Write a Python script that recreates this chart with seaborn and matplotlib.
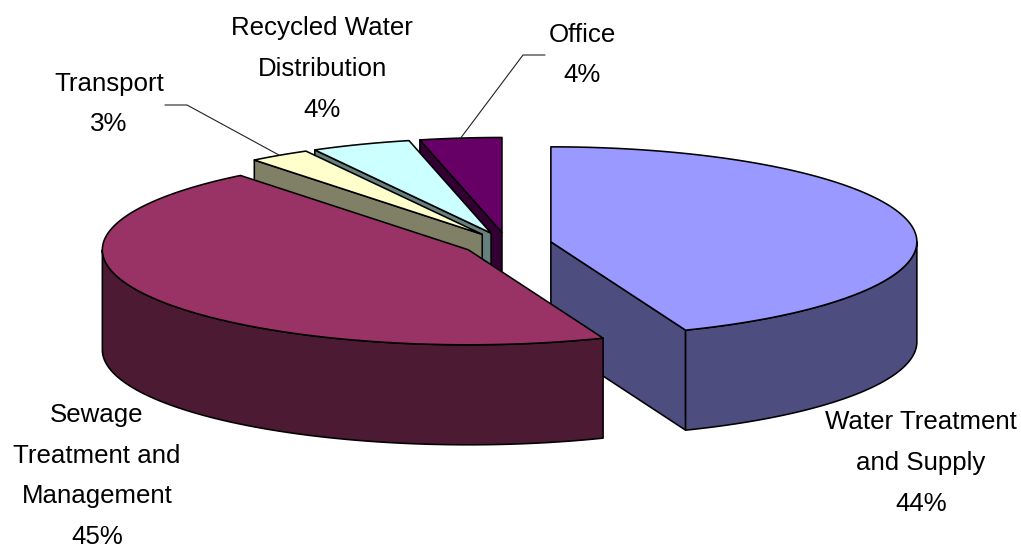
import numpy as np
import matplotlib
matplotlib.use("Agg")
import matplotlib.pyplot as plt
from matplotlib.patches import Polygon
import seaborn as sns

categories = ["Water Treatment\nand Supply", "Sewage\nTreatment and\nManagement", "Transport",
              "Recycled Water\nDistribution", "Office"]
values = [44.0, 45.3, 2.7, 4.4, 3.6]
top_colors = ["#9999FF", "#993366", "#FFFFCC", "#CCFFFF", "#660066"]
wall_colors = ["#4D4D80", "#4D1A33", "#808066", "#668080", "#330033"]
label_pos = [(921, 463), (97, 476), (109, 104), (322, 69), (582, 55)]

sns.set_theme(style="white")
plt.rcParams["font.family"] = ["Liberation Sans", "DejaVu Sans"]

CX, CY, RX, RY, DEPTH, EXPLODE = 507, 244, 366, 95, 100, 0.122
LW = 1.15

fig = plt.figure(figsize=(10.21, 5.51), dpi=100)
ax = fig.add_axes([0, 0, 1, 1])
ax.set_xlim(0, 1021)
ax.set_ylim(551, 0)
ax.axis("off")

edges = np.cumsum([0] + values) / sum(values) * 2 * np.pi
pal_top = sns.color_palette(top_colors)
pal_wall = sns.color_palette(wall_colors)


def rim(a, cx, cy, dz=0):
    return np.column_stack([cx + RX * np.sin(a), cy - RY * np.cos(a) + dz])


def slice_center(a0, a1):
    m = (a0 + a1) / 2
    return CX + EXPLODE * RX * np.sin(m), CY - EXPLODE * RY * np.cos(m)


for i in [4, 3, 2, 0, 1]:
    a0, a1 = edges[i], edges[i + 1]
    cx, cy = slice_center(a0, a1)
    ang = np.linspace(a0, a1, 200)
    # cut wall that faces the viewer
    if i != 1:
        e = a1 if i == 0 else a0
        p = rim(np.array([e]), cx, cy)[0]
        ax.add_patch(Polygon([(cx, cy), p, p + [0, DEPTH], (cx, cy + DEPTH)],
                             fc=pal_wall[i], ec="black", lw=LW, joinstyle="round"))
    # outer wall: front half of the rim
    lo, hi = max(a0, np.pi / 2), min(a1, 3 * np.pi / 2)
    if hi > lo:
        w = np.linspace(lo, hi, 200)
        ax.add_patch(Polygon(np.vstack([rim(w, cx, cy), rim(w[::-1], cx, cy, DEPTH)]),
                             fc=pal_wall[i], ec="black", lw=LW, joinstyle="round"))
    # top face
    ax.add_patch(Polygon(np.vstack([[(cx, cy)], rim(ang, cx, cy)]),
                         fc=pal_top[i], ec="black", lw=LW, joinstyle="round"))

for cat, v, (x, y) in zip(categories, values, label_pos):
    ax.text(x, y, f"{cat}\n{v:.0f}%", ha="center", va="center", fontsize=18.6,
            color="black", linespacing=1.88)

# leader lines: slice rim -> elbow -> label end
for i, rim_angle, elbow, end in [(2, edges[2:4].mean(), (187, 105), (165, 105)),
                                 (4, edges[4:6].mean(), (523, 55), (545, 55))]:
    cx, cy = slice_center(edges[i], edges[i + 1])
    p = rim(np.array([rim_angle]), cx, cy)[0]
    ax.plot([p[0], elbow[0], end[0]], [p[1], elbow[1], end[1]], color="#222222", lw=0.8)

fig.savefig("out.png", dpi=100, facecolor="white")
